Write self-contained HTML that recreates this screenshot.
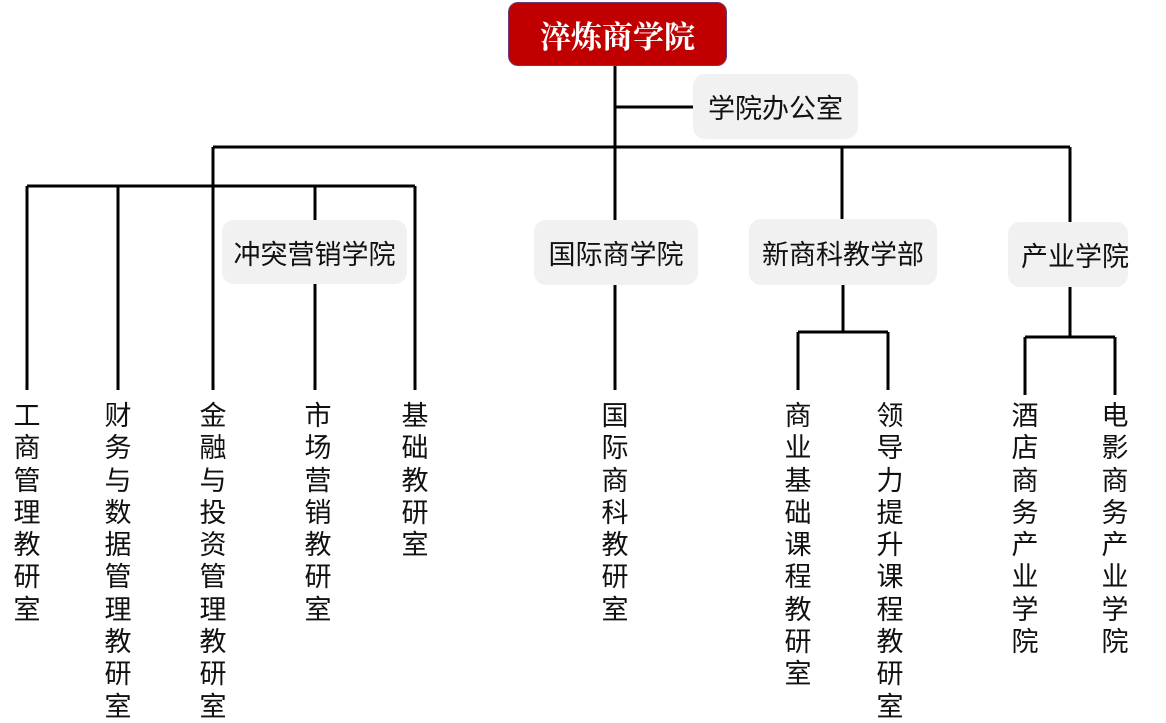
<!DOCTYPE html>
<html><head><meta charset="utf-8"><style>
body{margin:0;width:1166px;height:717px;background:#fff;position:relative;overflow:hidden;font-family:"Liberation Sans","Noto Sans CJK SC",sans-serif;}
.box{position:absolute;background:#f1f1f1;border-radius:12px;display:flex;align-items:center;justify-content:center;font-size:27px;color:#111;white-space:nowrap;}
.top{position:absolute;left:508px;top:2px;width:217px;height:62px;background:#c00000;border:1px solid #6a3a7a;border-radius:10px;color:#fff;font-family:"Liberation Serif","Noto Serif CJK SC",serif;font-weight:bold;font-size:31px;display:flex;align-items:center;justify-content:center;}
.v{position:absolute;width:40px;font-size:27px;line-height:32.3px;text-align:center;color:#111;top:400px;}
svg{position:absolute;left:0;top:0}
</style></head><body>
<svg width="1166" height="717">
<g stroke="#000" stroke-width="3" fill="none">
<line x1="615" y1="65" x2="615" y2="222"/>
<line x1="615" y1="107" x2="693" y2="107"/>
<line x1="213" y1="147" x2="1070" y2="147"/>
<line x1="213" y1="147" x2="213" y2="390"/>
<line x1="27" y1="186" x2="415" y2="186"/>
<line x1="27" y1="186" x2="27" y2="390"/>
<line x1="118" y1="186" x2="118" y2="390"/>
<line x1="415" y1="186" x2="415" y2="390"/>
<line x1="315" y1="186" x2="315" y2="222"/>
<line x1="315" y1="284" x2="315" y2="390"/>
<line x1="615" y1="284" x2="615" y2="390"/>
<line x1="842" y1="147" x2="842" y2="222"/>
<line x1="843" y1="285" x2="843" y2="332"/>
<line x1="798" y1="332" x2="888" y2="332"/>
<line x1="798" y1="332" x2="798" y2="390"/>
<line x1="888" y1="332" x2="888" y2="390"/>
<line x1="1070" y1="147" x2="1070" y2="222"/>
<line x1="1070" y1="287" x2="1070" y2="337"/>
<line x1="1025" y1="337" x2="1115" y2="337"/>
<line x1="1025" y1="337" x2="1025" y2="395"/>
<line x1="1115" y1="337" x2="1115" y2="395"/>
</g></svg>
<div class="top">淬炼商学院</div>
<div class="box" style="left:693px;top:74px;width:165px;height:65px;">学院办公室</div>
<div class="box" style="left:222px;top:220px;width:185px;height:64px;">冲突营销学院</div>
<div class="box" style="left:534px;top:220px;width:164px;height:65px;">国际商学院</div>
<div class="box" style="left:749px;top:219px;width:188px;height:66px;">新商科教学部</div>
<div class="box" style="left:1008px;top:222px;width:120px;height:65px;"><span style="position:relative;left:7px">产业学院</span></div>
<div class="v" style="left:7px">工<br>商<br>管<br>理<br>教<br>研<br>室</div>
<div class="v" style="left:98px">财<br>务<br>与<br>数<br>据<br>管<br>理<br>教<br>研<br>室</div>
<div class="v" style="left:193px">金<br>融<br>与<br>投<br>资<br>管<br>理<br>教<br>研<br>室</div>
<div class="v" style="left:298px">市<br>场<br>营<br>销<br>教<br>研<br>室</div>
<div class="v" style="left:395px">基<br>础<br>教<br>研<br>室</div>
<div class="v" style="left:595px">国<br>际<br>商<br>科<br>教<br>研<br>室</div>
<div class="v" style="left:778px">商<br>业<br>基<br>础<br>课<br>程<br>教<br>研<br>室</div>
<div class="v" style="left:870px">领<br>导<br>力<br>提<br>升<br>课<br>程<br>教<br>研<br>室</div>
<div class="v" style="left:1005px">酒<br>店<br>商<br>务<br>产<br>业<br>学<br>院</div>
<div class="v" style="left:1095px">电<br>影<br>商<br>务<br>产<br>业<br>学<br>院</div>
</body></html>
